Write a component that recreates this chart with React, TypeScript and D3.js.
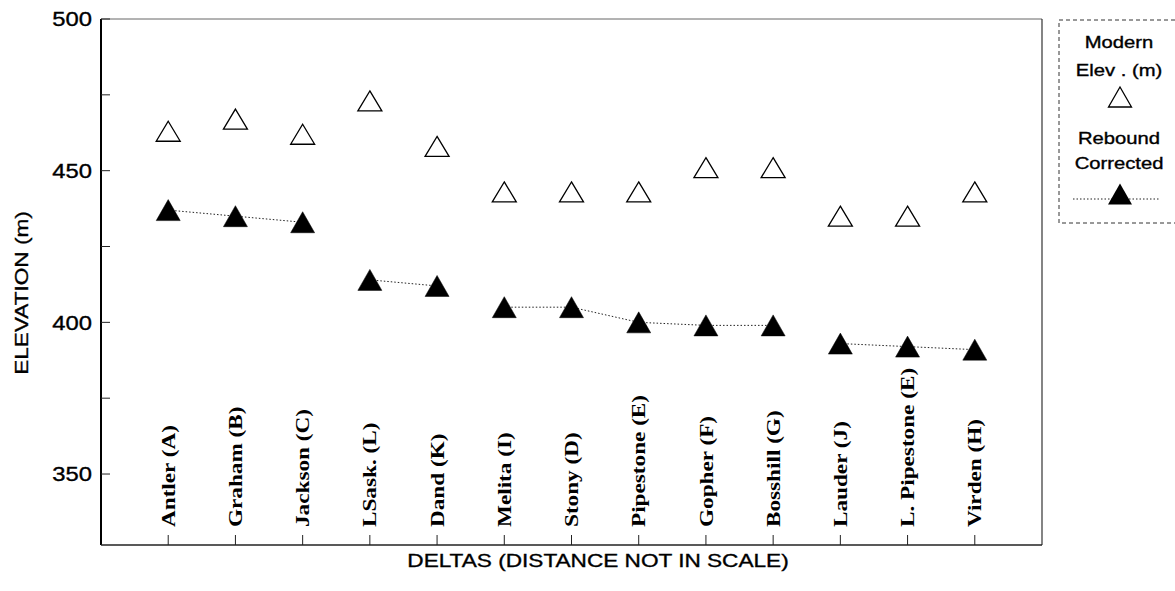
import * as React from 'react';
import * as d3 from 'd3';

// deltas along the x axis (not in distance order)
const deltas = [
    'Antler (A)', 'Graham (B)', 'Jackson (C)', 'LSask. (L)', 'Dand (K)', 'Melita (I)', 'Stony (D)',
    'Pipestone (E)', 'Gopher (F)', 'Bosshill (G)', 'Lauder (J)', 'L. Pipestone (E)', 'Virden (H)',
];
const modernElev = [463, 467, 462, 473, 458, 443, 443, 443, 451, 451, 435, 435, 443];
const reboundCorrected = [437, 435, 433, 414, 412, 405, 405, 400, 399, 399, 393, 392, 391];
// which dotted segment each corrected point belongs to
const lineGroup = [1, 1, 1, 2, 2, 3, 3, 3, 3, 3, 4, 4, 4];
const yMajorTicks = [350, 400, 450, 500];
const yMinorTicks = [375, 425, 475];

const SANS = '"Liberation Sans", Arial, sans-serif';
const SERIF = '"Liberation Serif", "Times New Roman", serif';
const STRETCH = 1.19; // scanned lettering is wider than the regular fonts

const left = 101, right = 1042, top = 19, bottom = 545;

const triPath = (w: number, h: number) => `M0,${-h / 2}L${w / 2},${h / 2}L${-w / 2},${h / 2}Z`;

const App: React.FC = () => {
    const x = d3.scalePoint<string>().domain(deltas).range([left, right]).padding(1);
    const y = d3.scaleLinear().domain([326.6, 500]).range([bottom, top]);

    const pts = deltas.map((d, i) => ({ d, i, m: modernElev[i], r: reboundCorrected[i], g: lineGroup[i] }));
    const groups = Array.from(d3.group(pts, p => p.g).values());
    const line = d3.line<typeof pts[0]>().x(p => x(p.d)!).y(p => y(p.r));

    // heavier lettering, like the scan
    const sansStyle = { fontFamily: SANS, fill: '#000', stroke: '#000', strokeWidth: 0.35 };

    return (
        <svg width={1175} height={591} style={{ position: 'absolute', left: 0, top: 0, background: '#fff' }}>
            {/* frame */}
            <line x1={left} x2={right} y1={top} y2={top} stroke="#666" strokeWidth={1} />
            <line x1={right} x2={right} y1={top} y2={bottom} stroke="#333" strokeWidth={1.2} />
            <line x1={left} x2={left} y1={top} y2={bottom} stroke="#000" strokeWidth={2} />
            <line x1={left} x2={right} y1={bottom} y2={bottom} stroke="#222" strokeWidth={1.5} />

            {/* y axis */}
            {yMajorTicks.concat(yMinorTicks).map(t => (
                <line key={'yt' + t} x1={left} x2={left + 9} y1={y(t)} y2={y(t)} stroke="#222" strokeWidth={1} />
            ))}
            {yMajorTicks.map(t => (
                <text key={'yl' + t} transform={`translate(${left - 9},${y(t)}) scale(${STRETCH},1)`}
                    textAnchor="end" dy="0.36em" fontSize={20} style={sansStyle}>{t}</text>
            ))}
            <text transform={`translate(21,293) rotate(-90) scale(${STRETCH},1)`} textAnchor="middle" dy="0.36em"
                fontSize={19} style={sansStyle}>ELEVATION (m)</text>

            {/* x axis */}
            {deltas.map(d => (
                <g key={'xt' + d}>
                    <line x1={x(d)} x2={x(d)} y1={bottom} y2={bottom - 10} stroke="#222" strokeWidth={1} />
                    <text transform={`translate(${x(d)},527) rotate(-90) scale(${STRETCH},1)`} dy="0.34em"
                        fontFamily={SERIF} fontWeight="bold" fontSize={19.5} fill="#000">{d}</text>
                </g>
            ))}
            <text transform={`translate(598,567) scale(${STRETCH},1)`} textAnchor="middle"
                fontSize={19} style={sansStyle}>DELTAS (DISTANCE NOT IN SCALE)</text>

            {/* rebound corrected dotted lines */}
            {groups.map((g, k) => (
                <path key={'ln' + k} d={line(g) ?? ''} fill="none" stroke="#222" strokeWidth={1}
                    strokeDasharray="1.5,2" />
            ))}

            {/* markers */}
            {pts.map(p => (
                <path key={'m' + p.i} d={triPath(24, 20)} transform={`translate(${x(p.d)},${y(p.m)})`}
                    fill="#fff" stroke="#000" strokeWidth={1.3} />
            ))}
            {pts.map(p => (
                <path key={'r' + p.i} d={triPath(24, 21)} transform={`translate(${x(p.d)},${y(p.r)})`}
                    fill="#000" stroke="#000" strokeWidth={0.5} />
            ))}

            {/* legend */}
            <rect x={1059} y={20} width={140} height={203} fill="#fff" stroke="#333" strokeWidth={1}
                strokeDasharray="4,3" />
            {[['Modern', 42], ['Elev . (m)', 70], ['Rebound', 138], ['Corrected', 163]].map(([t, ty]) => (
                <text key={'lg' + t} transform={`translate(1119,${ty}) scale(${STRETCH},1)`} textAnchor="middle"
                    dy="0.36em" fontSize={17} style={sansStyle}>{t}</text>
            ))}
            <path d={triPath(23, 20)} transform="translate(1120,97)" fill="#fff" stroke="#000" strokeWidth={1.3} />
            <line x1={1073} x2={1160} y1={199} y2={199} stroke="#222" strokeWidth={1} strokeDasharray="1.5,2" />
            <path d={triPath(24, 21)} transform="translate(1120,194)" fill="#000" />
        </svg>
    );
};

export default App;
